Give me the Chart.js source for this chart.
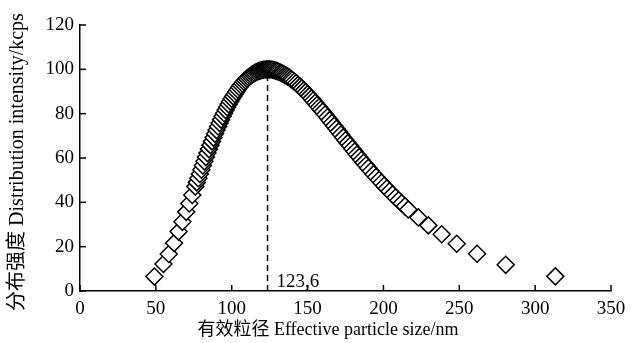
<!DOCTYPE html>
<html>
<head>
<meta charset="utf-8">
<script src="https://cdn.jsdelivr.net/npm/chart.js@4.4.0/dist/chart.umd.min.js"></script>
<style>
  html, body { margin: 0; padding: 0; background: #fff; }
</style>
</head>
<body>
<canvas id="grafico" width="635" height="343"></canvas>
<script>
// tamanho efetivo (nm) e intensidade (kcps)
var tamanhos = [
    49, 55, 58.5, 62, 65, 67.5, 70, 72, 74, 76,
    77, 78, 79, 80, 81, 82, 83, 84, 85, 86, 87, 88, 89, 90, 91, 92, 93,
    94, 95, 96, 97, 98, 99, 100, 101, 102, 103, 104, 105, 106, 107, 108, 109, 110,
    111, 112, 113, 114, 115, 116, 117, 118, 119, 120,
    121, 122, 123, 124, 125, 126, 127, 128, 129, 130,
    131, 132, 133, 134, 135, 136, 137, 138, 139, 140,
    141.2, 142.5, 143.7, 145, 146.2, 147.5, 148.7, 150,
    151.2, 152.5, 153.7, 155, 156.2, 157.5, 158.7, 160,
    161.5, 163, 164.5, 166, 167.5, 169, 170.5, 172, 173.5, 175,
    176.5, 178, 179.5, 181, 182.5, 184, 185.5, 187, 188.5, 190,
    191.7, 193.5, 195.2, 197, 198.7, 200.5, 202.2, 204, 206, 208, 210, 212, 214.2, 216.4,
    223, 229.6, 238.4, 248.3, 261.7, 280.6, 313.3
];
var intensidades = [
    6.5, 12.2, 16.7, 21.6, 26.8, 31.2, 35.7, 39.5, 43.3, 47.1,
    49.0, 50.9, 52.8, 54.7, 56.6, 58.5, 60.4, 62.2, 64.0, 65.8, 67.5, 69.2, 70.9, 72.6, 74.2, 75.8, 77.3,
    78.8, 80.2, 81.6, 82.9, 84.2, 85.5, 86.7, 87.8, 88.9, 89.9, 90.9, 91.9, 92.8, 93.6, 94.4, 95.1, 95.8,
    96.4, 96.9, 97.4, 97.9, 98.3, 98.7, 99.0, 99.3, 99.5, 99.7,
    99.8, 99.9, 100.0, 100.0, 100.0, 99.9, 99.8, 99.6, 99.4, 99.2,
    98.9, 98.6, 98.3, 97.9, 97.5, 97.1, 96.7, 96.2, 95.7, 95.2,
    94.5, 93.8, 93.0, 92.2, 91.4, 90.5, 89.7, 88.8,
    87.9, 86.9, 85.9, 84.9, 83.9, 82.9, 81.9, 80.9,
    79.6, 78.4, 77.1, 75.8, 74.5, 73.2, 71.9, 70.6, 69.3, 68.0,
    66.7, 65.5, 64.2, 62.9, 61.6, 60.4, 59.1, 57.9, 56.7, 55.5,
    54.1, 52.7, 51.4, 50.1, 48.8, 47.5, 46.2, 45.0, 43.6, 42.2, 40.9, 39.6, 38.2, 36.8,
    33.2, 29.6, 25.6, 21.3, 16.8, 11.8, 6.6
];

var picoX = 123.6;
var picoTopo = 96;
var picoTexto = '123,6';

var xMin = 0, xMax = 350, xPasso = 50;
var yMin = 0, yMax = 120, yPasso = 20;

var tituloX = '有效粒径 Effective particle size/nm';
var tituloY = '分布强度 Distribution intensity/kcps';

var fonte = "'Liberation Serif', 'Noto Sans CJK SC', serif";

var pontos = [];
for (var i = 0; i < tamanhos.length; i++) {
    pontos.push({ x: tamanhos[i], y: intensidades[i] });
}

// ticks para dentro + textos extras
const extras = {
    id: 'extras',
    beforeDatasetsDraw(chart) {
        const ctx = chart.ctx;
        const xs = chart.scales.x;
        const ys = chart.scales.y;
        const area = chart.chartArea;
        ctx.save();
        ctx.strokeStyle = '#000';
        ctx.lineWidth = 1.5;
        xs.ticks.forEach(function (t) {
            var px = xs.getPixelForValue(t.value);
            ctx.beginPath();
            ctx.moveTo(px, area.bottom);
            ctx.lineTo(px, area.bottom - 6);
            ctx.stroke();
        });
        ys.ticks.forEach(function (t) {
            var py = ys.getPixelForValue(t.value);
            ctx.beginPath();
            ctx.moveTo(area.left, py);
            ctx.lineTo(area.left + 6, py);
            ctx.stroke();
        });
        ctx.restore();
    },
    afterDraw(chart) {
        const ctx = chart.ctx;
        const xs = chart.scales.x;
        const ys = chart.scales.y;
        ctx.save();
        ctx.fillStyle = '#000';
        ctx.font = '19px ' + fonte;
        ctx.textAlign = 'left';
        ctx.textBaseline = 'alphabetic';
        ctx.fillText(picoTexto, xs.getPixelForValue(picoX) + 9, ys.getPixelForValue(2));

        ctx.font = '18px ' + fonte;
        ctx.textAlign = 'center';
        ctx.textBaseline = 'middle';
        ctx.fillText(tituloX, 328, 330);

        ctx.font = '20px ' + fonte;
        ctx.translate(18, 162);
        ctx.rotate(-Math.PI / 2);
        ctx.fillText(tituloY, 0, 0);
        ctx.restore();
    }
};

const config = {
    type: 'scatter',
    data: {
        datasets: [
            {
                label: 'pico',
                type: 'line',
                data: [{ x: picoX, y: 0 }, { x: picoX, y: picoTopo }],
                borderColor: '#000',
                borderWidth: 1.5,
                borderDash: [6, 4],
                pointRadius: 0,
                fill: false
            },
            {
                label: 'Distribuição',
                data: pontos,
                pointStyle: 'rectRot',
                pointRadius: 8.5,
                pointHoverRadius: 8.5,
                borderWidth: 1.5,
                borderColor: '#000',
                backgroundColor: '#fff'
            }
        ]
    },
    options: {
        responsive: false,
        animation: false,
        layout: {
            padding: { top: 25, right: 24, left: 0, bottom: 0 }
        },
        plugins: {
            legend: { display: false },
            tooltip: { enabled: false }
        },
        scales: {
            x: {
                type: 'linear',
                min: xMin,
                max: xMax,
                afterFit: function (scale) { scale.height = 52; },
                grid: { display: false, drawTicks: false },
                border: { color: '#000', width: 1.5 },
                ticks: {
                    stepSize: xPasso,
                    padding: 7,
                    color: '#000',
                    maxRotation: 0,
                    font: { family: fonte, size: 19 }
                }
            },
            y: {
                min: yMin,
                max: yMax,
                afterFit: function (scale) { scale.width = 80; },
                grid: { display: false, drawTicks: false },
                border: { color: '#000', width: 1.5 },
                ticks: {
                    stepSize: yPasso,
                    padding: 6,
                    color: '#000',
                    font: { family: fonte, size: 19 }
                }
            }
        }
    },
    plugins: [extras]
};

const grafico = new Chart(document.getElementById('grafico'), config);
</script>
</body>
</html>
